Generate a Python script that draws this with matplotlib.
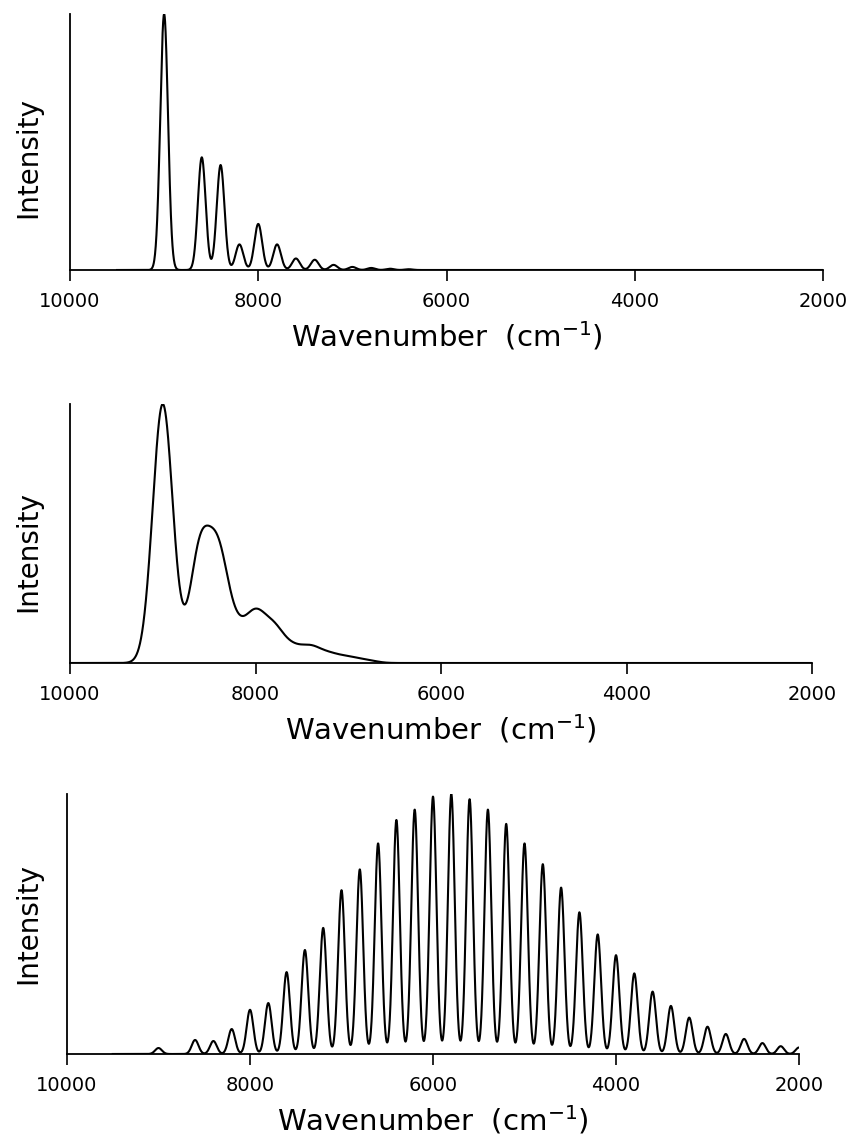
"""Three simulated spectra (Intensity vs Wavenumber), stacked vertically."""
import matplotlib
matplotlib.use("Agg")
import matplotlib.pyplot as plt  # noqa: E402
import numpy as np  # noqa: E402

plt.rcParams["font.family"] = ["DejaVu Sans"]

# --------------------------------------------------------------------------- #
# data: band centres (cm-1), relative heights, band width
# --------------------------------------------------------------------------- #
top_centres = [9000, 8600, 8400, 8200, 8000, 7800, 7600, 7400, 7200, 7000,
               6800, 6600, 6400]
top_heights = [1.00, 0.44, 0.41, 0.10, 0.18, 0.10, 0.045, 0.04, 0.02, 0.012,
               0.008, 0.005, 0.003]
top_sigma = 41
top_range = (9500, 2000)

mid_centres = [9000, 8600, 8400, 8200, 8000, 7800, 7600, 7400, 7200, 7000,
               6800]
mid_heights = [1.00, 0.42, 0.39, 0.10, 0.17, 0.12, 0.05, 0.055, 0.03, 0.02,
               0.01]
mid_sigma = 108
mid_range = (10000, 2000)

low_centres = [9000, 8600, 8400, 8200, 8000, 7800, 7600, 7400, 7200, 7000,
               6800, 6600, 6400, 6200, 6000, 5800, 5600, 5400, 5200, 5000,
               4800, 4600, 4400, 4200, 4000, 3800, 3600, 3400, 3200, 3000,
               2800, 2600, 2400, 2200, 2000]
low_heights = [0.023, 0.054, 0.05, 0.096, 0.17, 0.196, 0.315, 0.40, 0.485,
               0.63, 0.71, 0.81, 0.90, 0.94, 0.99, 1.00, 0.98, 0.94, 0.885,
               0.81, 0.73, 0.64, 0.545, 0.46, 0.38, 0.31, 0.24, 0.185, 0.14,
               0.105, 0.077, 0.058, 0.042, 0.03, 0.025]
low_sigma = 37
low_range = (9500, 2000)

x_ticks = [10000, 8000, 6000, 4000, 2000]


def spectrum(centres, heights, sigma, span):
    x = np.linspace(span[0], span[1], 4000)
    y = np.zeros_like(x)
    for c, h in zip(centres, heights):
        y += h * np.exp(-0.5 * ((x - c) / sigma) ** 2)
    return x, y


fig = plt.figure(figsize=(8.51, 11.39), dpi=100)

W, H = 851, 1139
# (left px, right px, top px, baseline px, ylabel y in axes frac)
panels = [
    (70, 823, 14, 270, 0.4375, (top_centres, top_heights, top_sigma, top_range)),
    (70, 812, 404, 663, 0.432, (mid_centres, mid_heights, mid_sigma, mid_range)),
    (67, 799, 794, 1054, 0.5, (low_centres, low_heights, low_sigma, low_range)),
]

for left, right, top, base, ly, spec in panels:
    ax = fig.add_axes([left / W, 1 - base / H, (right - left) / W, (base - top) / H])
    x, y = spectrum(*spec)
    ax.plot(x, y, color="black", lw=1.5, solid_joinstyle="round")
    ax.set_xlim(10000, 2000)
    ax.set_ylim(0, y.max())
    ax.set_xticks(x_ticks)
    ax.set_xticklabels([str(t) for t in x_ticks])
    ax.set_yticks([])
    for s in ("top", "right"):
        ax.spines[s].set_visible(False)
    for s in ("left", "bottom"):
        ax.spines[s].set_linewidth(1.3)
    ax.tick_params(axis="x", direction="out", length=8, width=1.2,
                   pad=8, labelsize=14)
    ax.set_xlabel(r"Wavenumber  (cm$^{-1}$)", fontsize=21, labelpad=6)
    ax.set_ylabel("Intensity", fontsize=20)
    ax.yaxis.set_label_coords(-(left - 42) / (right - left), ly)

fig.savefig("out.png", dpi=100)
